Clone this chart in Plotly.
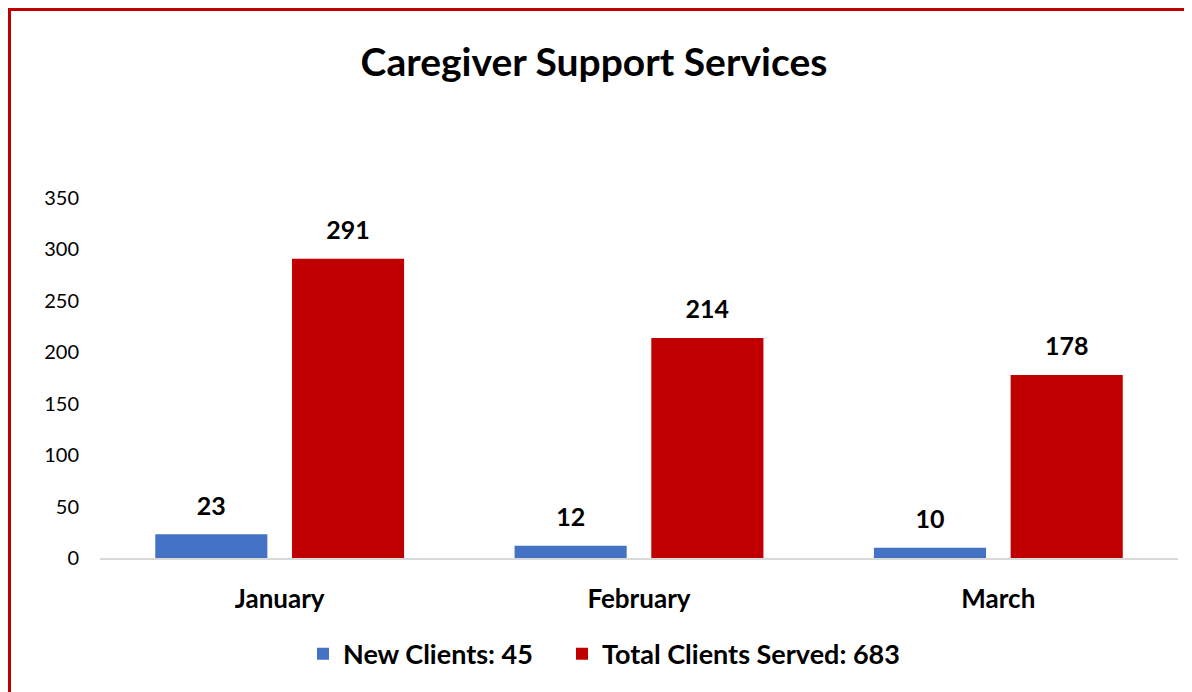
import plotly.graph_objects as go

months = ["January", "February", "March"]
new_clients = [23, 12, 10]
total_clients = [291, 214, 178]
legend_new = "New Clients: 45"
legend_total = "Total Clients Served: 683"
title_text = "Caregiver Support Services"
y_ticks = [0, 50, 100, 150, 200, 250, 300, 350]

W, H = 1192, 692
ML, MR, MT, MB = 92, 22, 190, 142
FONT = "Lato, 'Open Sans', sans-serif"
BLUE = "#4472C4"
RED = "#C00000"

fig = go.Figure()
fig.add_trace(go.Bar(x=months, y=new_clients, name=legend_new,
                     marker=dict(color=BLUE, line=dict(width=0)),
                     offsetgroup="a", legend="legend"))
fig.add_trace(go.Bar(x=months, y=total_clients, name=legend_total,
                     marker=dict(color=RED, line=dict(width=0)),
                     offsetgroup="b", legend="legend2"))
# data labels
for vals, grp in ((new_clients, "a"), (total_clients, "b")):
    fig.add_trace(go.Scatter(x=months, y=vals, mode="markers+text",
                             text=[str(v) for v in vals],
                             textposition="top center",
                             textfont=dict(family=FONT, size=25, color="#000000", weight="bold"),
                             marker=dict(size=20, opacity=0),
                             offsetgroup=grp, showlegend=False, hoverinfo="skip",
                             cliponaxis=False))

pw = W - ML - MR
ph = H - MT - MB
bx0 = (1.5 - ML) / pw
bx1 = (W + 10 - ML) / pw
by1 = (H - MB - 1.5) / ph
by0 = (H - MB - (H + 10)) / ph
fig.add_shape(type="rect", xref="paper", yref="paper", x0=bx0, x1=bx1, y0=by0, y1=by1,
              line=dict(color=RED, width=3), layer="above")

leg_font = dict(family=FONT, size=27, color="#000000", weight="bold")
fig.update_layout(
    width=W, height=H,
    margin=dict(l=ML, r=MR, t=MT, b=MB, pad=0),
    paper_bgcolor="white", plot_bgcolor="white",
    barmode="group", bargap=0.239, bargroupgap=0.18,
    scattermode="group", scattergap=0.239,
    title=dict(text=title_text, x=586 / W, xref="container", xanchor="center",
               y=1 - 54 / H, yref="container", yanchor="middle",
               font=dict(family=FONT, size=39, color="#000000", weight="bold")),
    font=dict(family=FONT),
    showlegend=True,
    legend=dict(orientation="h", x=(295 - ML) / pw, xanchor="left", y=-0.267, yanchor="middle",
                font=leg_font, itemwidth=30, bgcolor="rgba(0,0,0,0)"),
    legend2=dict(orientation="h", x=(554 - ML) / pw, xanchor="left", y=-0.267, yanchor="middle",
                 font=leg_font, itemwidth=30, bgcolor="rgba(0,0,0,0)"),
    xaxis=dict(showgrid=False, zeroline=False, showline=True, linecolor="#D9D9D9", linewidth=2,
               ticks="", ticklabelstandoff=17,
               tickfont=dict(family=FONT, size=26, color="#000000", weight="bold")),
    yaxis=dict(range=[0, 350], tickvals=y_ticks, showgrid=False, zeroline=False,
               showline=False, ticks="", ticklabelstandoff=20,
               tickfont=dict(family=FONT, size=20, color="#000000")),
)

fig.write_html("out.html")
